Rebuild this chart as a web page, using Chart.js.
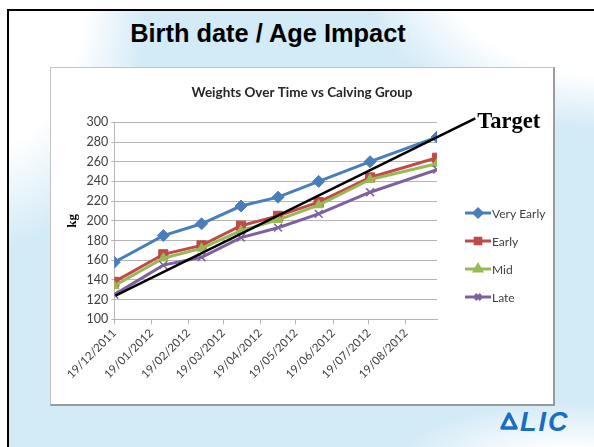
<!DOCTYPE html>
<html>
<head>
<meta charset="utf-8">
<script src="https://cdn.jsdelivr.net/npm/chart.js@4.4.1/dist/chart.umd.min.js"></script>
<style>
  html, body { margin: 0; padding: 0; background: #fff; }
  body { width: 594px; height: 447px; position: relative; overflow: hidden; }
  .slide {
    position: absolute; left: 7px; top: 9px; width: 640px; height: 470px;
    border-top: 2px solid #000; border-left: 2px solid #000;
    background-color: #d3eaf7;
    background-image:
      radial-gradient(ellipse 250px 160px at 600px -40px, #ffffff 65%, rgba(255,255,255,0) 100%),
      radial-gradient(ellipse 160px 260px at -20px -20px, #ffffff 60%, rgba(255,255,255,0) 100%),
      radial-gradient(ellipse 180px 70px at 560px 460px, #ffffff 30%, rgba(255,255,255,0) 100%);
  }
  .heading {
    position: absolute; left: 0; top: 19px; width: 536px; line-height: 30px;
    text-align: center; font: bold 25.4px "Liberation Sans", Arial, sans-serif; color: #000;
  }
  .box {
    position: absolute; left: 50px; top: 67px; width: 502px; height: 336px;
    background: #fff;
    border-left: 1px solid #c4c4c4; border-top: 1px solid #c4c4c4;
    border-right: 2px solid #9a9a9a; border-bottom: 2px solid #9a9a9a;
  }
  .box canvas { display: block; }
  .logo { position: absolute; left: 500px; top: 408px; height: 28px; display: flex; align-items: center; }
  .logo span {
    font: italic bold 27px "Liberation Sans", Arial, sans-serif; color: #1b6cc4;
    letter-spacing: 2px; margin-left: 2px;
  }
</style>
</head>
<body>
<div class="slide"></div>
<div class="heading">Birth date / Age Impact</div>
<div class="box"><canvas id="weightsChart" width="502" height="336"></canvas></div>
<div class="logo">
  <svg width="18" height="20" viewBox="0 0 18 20">
    <path d="M9 2 L16 16 L2 16 Z" fill="none" stroke="#1b6cc4" stroke-width="3.5" stroke-linejoin="round"/>
    <circle cx="9" cy="11" r="2.2" fill="#fff"/>
  </svg>
  <span>LIC</span>
</div>
<script>
// weigh dates and group weights (kg)
const weighDates = ['2011-12-19', '2012-01-29', '2012-03-01', '2012-04-03', '2012-05-04', '2012-06-07', '2012-07-20', '2012-09-14'];
const veryEarly = [158, 185, 197, 215, 224, 240, 260, 285];
const early = [138, 166, 175, 195, 205, 219, 244, 264];
const mid = [134, 162, 172, 190, 201, 216, 242, 258];
const late = [125, 155, 163, 183, 193, 207, 229, 252];

// target growth line (start, end)
const targetDates = ['2011-12-20', '2012-10-16'];
const targetWeights = [124, 304];

// x axis ticks, one per month
const tickDates = ['2011-12-19', '2012-01-19', '2012-02-19', '2012-03-19', '2012-04-19', '2012-05-19', '2012-06-19', '2012-07-19', '2012-08-19'];
const tickLabels = ['19/12/2011', '19/01/2012', '19/02/2012', '19/03/2012', '19/04/2012', '19/05/2012', '19/06/2012', '19/07/2012', '19/08/2012'];

const seriesNames = ['Very Early', 'Early', 'Mid', 'Late'];
const seriesColors = ['#4a7ebb', '#be4b48', '#98b954', '#7d60a0'];
const seriesMarkers = ['rectRot', 'rect', 'triangle', 'crossRot'];

const startDay = Date.parse(weighDates[0]);
const toDay = d => Math.round((Date.parse(d) - startDay) / 86400000);
const pts = (dates, vals) => dates.map((d, i) => ({ x: toDay(d), y: vals[i] }));

const labelFont = 'Lato, "Liberation Sans", sans-serif';

function series(i, values, radius) {
  return {
    label: seriesNames[i],
    data: pts(weighDates, values),
    borderColor: seriesColors[i],
    backgroundColor: seriesColors[i],
    borderWidth: 3,
    pointStyle: seriesMarkers[i],
    pointRadius: radius,
    pointBorderWidth: seriesMarkers[i] === 'crossRot' ? 1.5 : 1,
    order: 4 - i + 1
  };
}

// chart title, centred on the whole canvas
const chartTitle = {
  id: 'chartTitle',
  afterDraw(chart) {
    const ctx = chart.ctx;
    ctx.save();
    ctx.fillStyle = '#262626';
    ctx.font = 'bold 13.5px ' + labelFont;
    ctx.textAlign = 'center';
    ctx.textBaseline = 'middle';
    ctx.fillText('Weights Over Time vs Calving Group', chart.width / 2, 25);
    ctx.restore();
  }
};

// legend drawn as line + marker on the right
const sideLegend = {
  id: 'sideLegend',
  afterDraw(chart) {
    const ctx = chart.ctx;
    const ys = [145, 173, 201, 229];
    ctx.save();
    seriesNames.forEach((name, i) => {
      const y = ys[i];
      ctx.strokeStyle = seriesColors[i];
      ctx.lineWidth = 3;
      ctx.beginPath();
      ctx.moveTo(414, y);
      ctx.lineTo(440, y);
      ctx.stroke();
      ctx.fillStyle = seriesColors[i];
      Chart.helpers.drawPoint(ctx, { pointStyle: seriesMarkers[i], radius: 4, borderWidth: 1.5 }, 427, y);
      ctx.fillStyle = '#404040';
      ctx.font = '12px ' + labelFont;
      ctx.textBaseline = 'middle';
      ctx.fillText(name, 441, y + 1);
    });
    ctx.restore();
  }
};

// "Target" text at the end of the target line
const targetLabel = {
  id: 'targetLabel',
  afterDatasetsDraw(chart) {
    const meta = chart.getDatasetMeta(0);
    const end = meta.data[meta.data.length - 1];
    const ctx = chart.ctx;
    ctx.save();
    ctx.fillStyle = '#000';
    ctx.font = 'bold 22.5px "Liberation Serif", "Times New Roman", serif';
    ctx.textBaseline = 'alphabetic';
    ctx.fillText('Target', end.x + 2, end.y + 10);
    ctx.restore();
  }
};

new Chart(document.getElementById('weightsChart'), {
  type: 'line',
  data: {
    datasets: [
      {
        label: 'Target',
        data: pts(targetDates, targetWeights),
        borderColor: '#000',
        borderWidth: 2.5,
        pointRadius: 0,
        clip: false,
        order: 0
      },
      series(0, veryEarly, 6),
      series(1, early, 6.5),
      series(2, mid, 5.5),
      series(3, late, 5.5)
    ]
  },
  options: {
    responsive: false,
    animation: false,
    devicePixelRatio: 1,
    layout: { padding: { left: 0, right: 116, top: 54.3, bottom: 0 } },
    plugins: {
      legend: { display: false },
      tooltip: { enabled: false },
      title: { display: false }
    },
    scales: {
      x: {
        type: 'linear',
        min: 0,
        max: toDay(weighDates[weighDates.length - 1]),
        afterBuildTicks: scale => { scale.ticks = tickDates.map(d => ({ value: toDay(d) })); },
        afterFit: scale => { scale.height = 84.7; },
        ticks: {
          autoSkip: false,
          minRotation: 45,
          maxRotation: 45,
          padding: 2,
          color: '#404040',
          font: { family: labelFont, size: 11.5 },
          callback: (v, i) => tickLabels[i]
        },
        grid: { drawOnChartArea: false, tickLength: 5, color: '#b5b5b5' },
        border: { color: '#b5b5b5' }
      },
      y: {
        min: 100,
        max: 300,
        afterFit: scale => { scale.width = 63.3; },
        ticks: {
          stepSize: 20,
          padding: 3,
          color: '#404040',
          font: { family: labelFont, size: 12.5 }
        },
        grid: { color: '#b5b5b5', tickLength: 3 },
        border: { color: '#b5b5b5' },
        title: {
          display: true,
          text: 'kg',
          color: '#000',
          font: { family: '"Liberation Serif", "Times New Roman", serif', size: 13, weight: 'bold' },
          padding: { top: 14, bottom: 0 }
        }
      }
    }
  },
  plugins: [chartTitle, sideLegend, targetLabel]
});
</script>
</body>
</html>
